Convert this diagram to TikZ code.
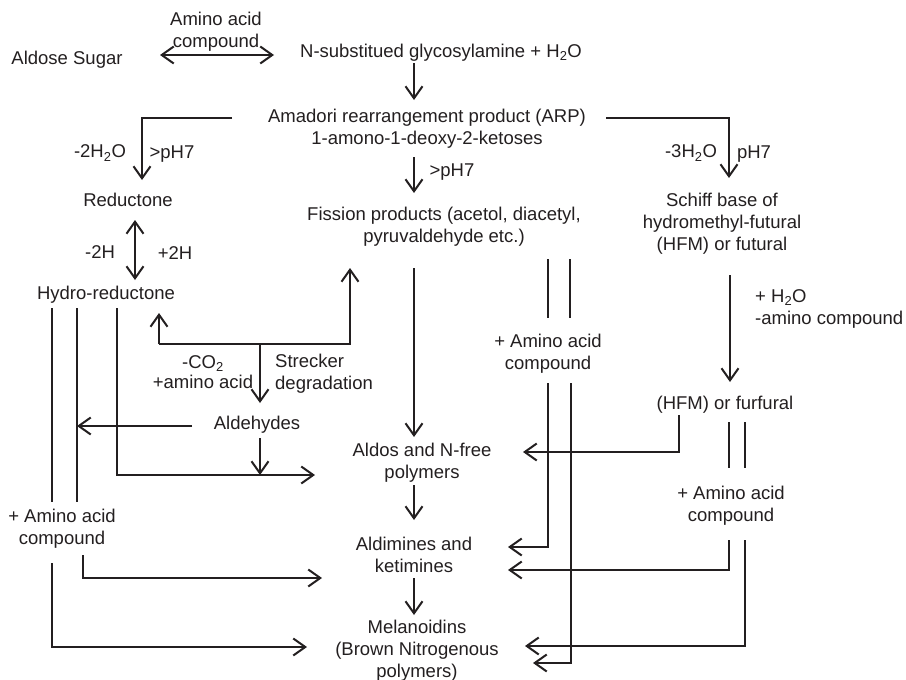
\documentclass[tikz,border=0pt]{standalone}
\usepackage{fontspec}
\setmainfont{Liberation Sans}
\usetikzlibrary{arrows.meta}
\definecolor{ink}{RGB}{35,31,32}
\begin{document}
\begin{tikzpicture}[x=1pt,y=-1pt,
  txt/.style={inner sep=0pt, font=\fontsize{18.5}{22}\selectfont, text=ink, align=center},
  ltxt/.style={txt, align=left, anchor=west},
  plain/.style={draw=ink, line width=2pt},
  conn/.style={plain, -{Straight Barb[length=12pt,width=17pt]}},
  darr/.style={plain, {Straight Barb[length=12pt,width=17pt]}-{Straight Barb[length=12pt,width=17pt]}}
]
\useasboundingbox[fill=white] (0,0) rectangle (906,680);

% ---- text nodes ----
\node[txt] (aldose) at (67,60) {Aldose Sugar};
\node[txt] (aminoTop) at (216,32) {Amino acid\\compound};
\node[txt] (nsub) at (441,53) {N-substitued glycosylamine + H\textsubscript{2}O};
\node[txt] (amadori) at (427,129) {Amadori rearrangement product (ARP)\\1-amono-1-deoxy-2-ketoses};
\node[txt] (m2h2o) at (100,153) {-2H\textsubscript{2}O};
\node[txt] (gph7a) at (172,154) {>pH7};
\node[txt] (m3h2o) at (691,153) {-3H\textsubscript{2}O};
\node[txt] (ph7) at (754,154) {pH7};
\node[txt] (gph7b) at (452,172) {>pH7};
\node[txt] (reductone) at (128,200) {Reductone};
\node[txt] (m2h) at (100,252) {-2H};
\node[txt] (p2h) at (175,253) {+2H};
\node[txt] (hydro) at (106,295) {Hydro-reductone};
\node[txt] (fission) at (444,227) {Fission products (acetol, diacetyl,\\pyruvaldehyde etc.)};
\node[txt] (schiff) at (722,224) {Schiff base of\\hydromethyl-futural\\(HFM) or futural};
\node[txt, font=\fontsize{18.5}{19.5}\selectfont] (co2) at (203,372) {-CO\textsubscript{2}\\+amino acid};
\node[ltxt] (strecker) at (275,374) {Strecker\\degradation};
\node[txt] (aldehydes) at (257,425) {Aldehydes};
\node[txt] (aminoMid) at (548,354) {+ Amino acid\\compound};
\node[ltxt] (h2o) at (755,309) {+ H\textsubscript{2}O\\-amino compound};
\node[txt] (hfm) at (725,405) {(HFM) or furfural};
\node[txt] (aldos) at (422,463) {Aldos and N-free\\polymers};
\node[txt] (aminoLeft) at (62,529) {+ Amino acid\\compound};
\node[txt] (aminoRight) at (731,506) {+ Amino acid\\compound};
\node[txt] (aldimines) at (414,555) {Aldimines and\\ketimines};
\node[txt] (melan) at (417,651) {Melanoidins\\(Brown Nitrogenous\\polymers)};

% ---- connector coordinates ----
\coordinate (c1a) at (160,55); \coordinate (c1b) at (274,55);
\coordinate (c2a) at (414,63); \coordinate (c2b) at (414,100);
\coordinate (c3a) at (232,118); \coordinate (c3b) at (142,118); \coordinate (c3c) at (142,180);
\coordinate (c4a) at (606,118); \coordinate (c4b) at (729,118); \coordinate (c4c) at (729,178);
\coordinate (c5a) at (414,157); \coordinate (c5b) at (414,193);
\coordinate (c6a) at (135,220); \coordinate (c6b) at (135,280);
\coordinate (h1a) at (52,308); \coordinate (h1b) at (52,502);
\coordinate (h2a) at (77,308); \coordinate (h2b) at (77,502);
\coordinate (h3a) at (117,308); \coordinate (h3b) at (117,475); \coordinate (h3c) at (315,475);
\coordinate (s1) at (159,313); \coordinate (s2) at (159,344); \coordinate (s3) at (350,344);
\coordinate (s4) at (350,268); \coordinate (s5) at (260,344); \coordinate (s6) at (260,403);
\coordinate (f1) at (414,268); \coordinate (f2) at (414,437);
\coordinate (a1) at (192,426); \coordinate (a2) at (77,426);
\coordinate (a3) at (260,438); \coordinate (a4) at (260,475);
\coordinate (m1a) at (548,259); \coordinate (m1b) at (548,318);
\coordinate (m2a) at (570,259); \coordinate (m2b) at (570,318);
\coordinate (m3a) at (548,383); \coordinate (m3b) at (548,547); \coordinate (m3c) at (508,547);
\coordinate (m4a) at (571,383); \coordinate (m4b) at (571,663); \coordinate (m4c) at (533,663);
\coordinate (k1) at (730,275); \coordinate (k2) at (730,382);
\coordinate (n1) at (679,415); \coordinate (n2) at (679,452); \coordinate (n3) at (523,452);
\coordinate (r1a) at (729,422); \coordinate (r1b) at (729,468);
\coordinate (r2a) at (745,422); \coordinate (r2b) at (745,468);
\coordinate (r3a) at (729,540); \coordinate (r3b) at (729,570); \coordinate (r3c) at (508,570);
\coordinate (r4a) at (745,540); \coordinate (r4b) at (745,646); \coordinate (r4c) at (525,646);
\coordinate (l1a) at (83,555); \coordinate (l1b) at (83,578); \coordinate (l1c) at (322,578);
\coordinate (l2a) at (52,563); \coordinate (l2b) at (52,647); \coordinate (l2c) at (307,647);
\coordinate (q1) at (414,485); \coordinate (q2) at (414,520);
\coordinate (q3) at (414,578); \coordinate (q4) at (414,615);

% ---- connectors ----
\draw[darr] (c1a) -- (c1b);
\draw[conn] (c2a) -- (c2b);
\draw[conn] (c3a) -- (c3b) -- (c3c);
\draw[conn] (c4a) -- (c4b) -- (c4c);
\draw[conn] (c5a) -- (c5b);
\draw[darr] (c6a) -- (c6b);
\draw[plain] (h1a) -- (h1b);
\draw[plain] (h2a) -- (h2b);
\draw[conn] (h3a) -- (h3b) -- (h3c);
\draw[conn] (s2) -- (s1);
\draw[conn] (s2) -- (s3) -- (s4);
\draw[conn] (s5) -- (s6);
\draw[conn] (f1) -- (f2);
\draw[conn] (a1) -- (a2);
\draw[conn] (a3) -- (a4);
\draw[plain] (m1a) -- (m1b);
\draw[plain] (m2a) -- (m2b);
\draw[conn] (m3a) -- (m3b) -- (m3c);
\draw[conn] (m4a) -- (m4b) -- (m4c);
\draw[conn] (k1) -- (k2);
\draw[conn] (n1) -- (n2) -- (n3);
\draw[plain] (r1a) -- (r1b);
\draw[plain] (r2a) -- (r2b);
\draw[conn] (r3a) -- (r3b) -- (r3c);
\draw[conn] (r4a) -- (r4b) -- (r4c);
\draw[conn] (l1a) -- (l1b) -- (l1c);
\draw[conn] (l2a) -- (l2b) -- (l2c);
\draw[conn] (q1) -- (q2);
\draw[conn] (q3) -- (q4);
\end{tikzpicture}
\end{document}
